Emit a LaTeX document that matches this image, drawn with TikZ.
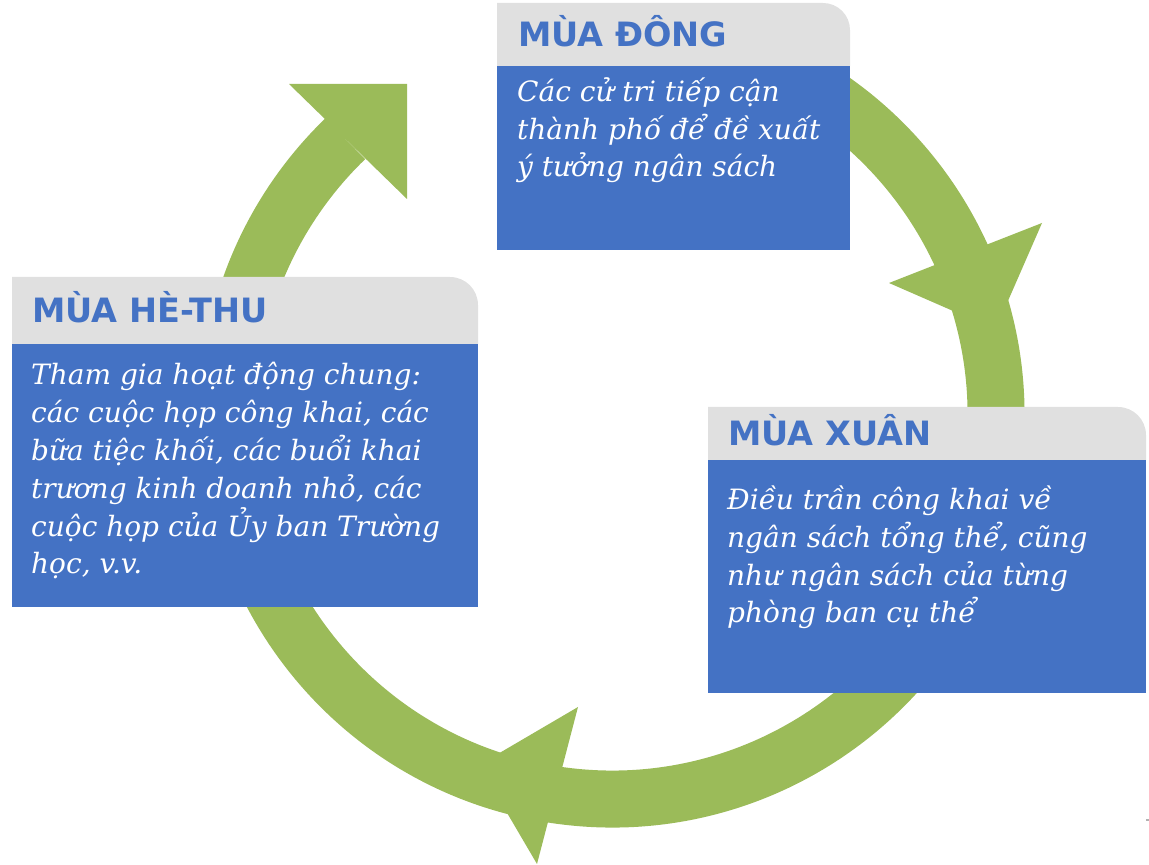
\documentclass[tikz,border=0pt]{standalone}
\usepackage{fontspec}
\usepackage{tkz-euclide}
\usetikzlibrary{calc}
\newfontfamily\headfont{DejaVu Sans}
\newfontfamily\bodyfont{DejaVu Serif}
\definecolor{vongxanh}{HTML}{9BBB59}
\definecolor{hopxanh}{HTML}{4472C4}
\definecolor{tieude}{HTML}{E0E0E0}
\tikzset{
  season/.style={anchor=base west,inner sep=0pt,text=hopxanh,
    font=\headfont\bfseries\fontsize{33.5}{40}\selectfont},
  detail/.style={anchor=base west,inner sep=0pt,align=left,text=white,
    font=\bodyfont\itshape\fontsize{28}{37.8}\selectfont}
}
\begin{document}
\begin{tikzpicture}[x=1pt,y=1pt]
  \useasboundingbox (0,0) rectangle (1149,865);
  % 定义圆心O
  \tkzDefPoint(612,450){O}
  % 绘制绿色圆环
  \draw[vongxanh,line width=57pt] ($(O)+(80:384)$) arc[start angle=80,end angle=-226,radius=384];
  % 左上箭头
  \tkzDefPoint(289,781){A}
  \tkzDefPoint(407,781){B}
  \tkzDefPoint(407,666){C}
  \tkzFillPolygon[fill=vongxanh](A,B,C)
  % 右侧箭头
  \tkzDefPoint(889,582){D}
  \tkzDefPoint(1042,642){E}
  \tkzDefPoint(995.5,535.5){F}
  \tkzFillPolygon[fill=vongxanh](D,E,F)
  % 底部箭头
  \tkzDefPoint(578,158){G}
  \tkzDefPoint(537,1){H}
  \tkzDefPoint(479,100){I}
  \tkzFillPolygon[fill=vongxanh](G,H,I)

  % 冬季方框
  \fill[tieude] (497,799) -- (497,862) -- (823,862) arc[start angle=90,end angle=0,radius=27] -- (850,799) -- cycle;
  \fill[hopxanh] (497,615) rectangle (850,799);
  \node[season] (dong) at (518,818) {MÙA ĐÔNG};
  \node[detail] (dongText) at (517,688) {Các cử tri tiếp cận\\thành phố để đề xuất\\ý tưởng ngân sách};

  % 夏秋方框
  \fill[tieude] (12,521) -- (12,588) -- (450,588) arc[start angle=90,end angle=0,radius=28] -- (478,521) -- cycle;
  \fill[hopxanh] (12,258) rectangle (478,521);
  \node[season] (heThu) at (32,542) {MÙA HÈ-THU};
  \node[detail] (heThuText) at (31,291) {Tham gia hoạt động chung:\\các cuộc họp công khai, các\\bữa tiệc khối, các buổi khai\\trương kinh doanh nhỏ, các\\cuộc họp của Ủy ban Trường\\học, v.v.};

  % 春季方框
  \fill[tieude] (708,405) -- (708,458) -- (1118,458) arc[start angle=90,end angle=0,radius=28] -- (1146,405) -- cycle;
  \fill[hopxanh] (708,172) rectangle (1146,405);
  \node[season] (xuan) at (728,419) {MÙA XUÂN};
  \node[detail] (xuanText) at (727,242) {Điều trần công khai về\\ngân sách tổng thể, cũng\\như ngân sách của từng\\phòng ban cụ thể};

  % 小灰点
  \fill[gray!60] (1146,44) rectangle (1149,46);
\end{tikzpicture}
\end{document}
